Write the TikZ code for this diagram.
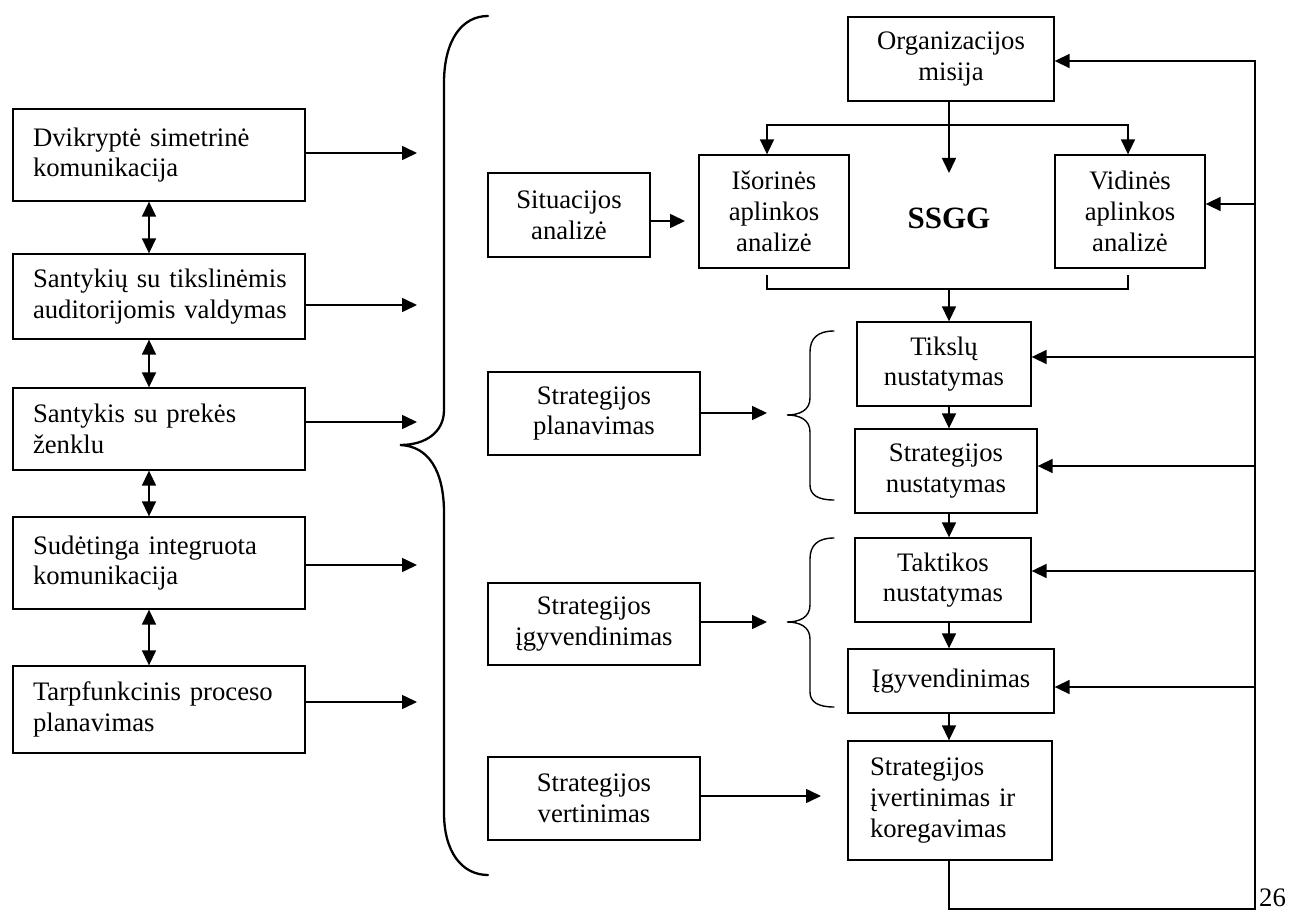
\documentclass[tikz,border=0pt]{standalone}
\usepackage{fontspec}
\setmainfont{Liberation Serif}
\usetikzlibrary{arrows.meta}
\newcommand{\dfont}{\fontsize{26.7pt}{30.7pt}\selectfont}
\begin{document}
\begin{tikzpicture}[x=1pt,y=-1pt,
  box/.style={draw, line width=1.3pt, inner sep=0pt, align=center, font=\dfont},
  lbox/.style={box, align=left, text width=252pt, inner xsep=20pt, minimum width=292pt},
  arr/.style={line width=1.6pt, -{Triangle[length=15pt,width=14pt]}},
  darr/.style={line width=1.6pt, {Triangle[length=15pt,width=14pt]}-{Triangle[length=15pt,width=14pt]}},
  link/.style={line width=1.6pt},
  brace/.style={line width=2.3pt, line cap=round},
  sbrace/.style={line width=1.4pt, line cap=round}
]
\useasboundingbox (0,0) rectangle (1302,912);

% left column
\node[lbox, minimum height=92pt] (l1) at (159,155)   {\mbox{Dvikryptė simetrinė}\\\mbox{komunikacija}};
\node[lbox, minimum height=85pt] (l2) at (159,296.5) {\mbox{Santykių su tikslinėmis}\\\mbox{auditorijomis valdymas}};
\node[lbox, minimum height=82pt] (l3) at (159,429)   {\mbox{Santykis su prekės}\\\mbox{ženklu}};
\node[lbox, minimum height=92pt] (l4) at (159,563)   {\mbox{Sudėtinga integruota}\\\mbox{komunikacija}};
\node[lbox, minimum height=87pt] (l5) at (159,709.5) {\mbox{Tarpfunkcinis proceso}\\\mbox{planavimas}};

\coordinate (dx) at (149,0);
\draw[darr] (l1.south -| dx) -- (l2.north -| dx);
\draw[darr] (l2.south -| dx) -- (l3.north -| dx);
\draw[darr] (l3.south -| dx) -- (l4.north -| dx);
\draw[darr] (l4.south -| dx) -- (l5.north -| dx);

\coordinate (t1) at (417,153);
\coordinate (t2) at (417,305);
\coordinate (t3) at (417,422);
\coordinate (t4) at (417,565);
\coordinate (t5) at (417,702);
\draw[arr] (l1.east |- t1) -- (t1);
\draw[arr] (l2.east |- t2) -- (t2);
\draw[arr] (l3.east |- t3) -- (t3);
\draw[arr] (l4.east |- t4) -- (t4);
\draw[arr] (l5.east |- t5) -- (t5);

% large brace
\draw[brace] (488,16) .. controls (462,16) and (444,40) .. (444,83)
  -- (444,410) .. controls (444,432) and (426,445) .. (400,445)
  .. controls (428,446) and (444,470) .. (444,513)
  -- (444,813) .. controls (444,852) and (462,875) .. (488,875);

% middle column
\node[box, minimum width=162pt, minimum height=84pt] (sit) at (569,215)   {Situacijos\\analizė};
\node[box, minimum width=212pt, minimum height=83pt] (sp)  at (594,413.5) {Strategijos\\planavimas};
\node[box, minimum width=212pt, minimum height=82pt] (si)  at (594,624)   {Strategijos\\įgyvendinimas};
\node[box, minimum width=212pt, minimum height=83pt] (sv)  at (594,798.5) {Strategijos\\vertinimas};

% right column
\node[box, minimum width=206pt, minimum height=84pt]  (org)  at (951,59)    {Organizacijos\\misija};
\node[box, minimum width=150pt, minimum height=113pt] (isor) at (774,211.5) {Išorinės\\aplinkos\\analizė};
\node[box, minimum width=150pt, minimum height=113pt] (vid)  at (1130,211.5) {Vidinės\\aplinkos\\analizė};
\node[font=\fontsize{31pt}{36pt}\selectfont\bfseries] (ssgg) at (949,218) {SSGG};
\node[box, minimum width=174pt, minimum height=84pt] (tik) at (944,364) {Tikslų\\nustatymas};
\node[box, minimum width=182pt, minimum height=84pt] (sn)  at (946,471) {Strategijos\\nustatymas};
\node[box, minimum width=176pt, minimum height=84pt] (tak) at (943,580) {Taktikos\\nustatymas};
\node[box, minimum width=206pt, minimum height=64pt] (igy) at (951,681) {Įgyvendinimas};
\node[box, align=left, text width=160pt, inner xsep=22pt, minimum height=119pt] (kor) at (950,800.5)
  {Strategijos\\įvertinimas ir\\koregavimas};

% arrows into the right column
\coordinate (sitt) at (685,221);
\draw[arr] (sit.east |- sitt) -- (sitt);
\coordinate (spt) at (767,413);
\draw[arr] (sp.east |- spt) -- (spt);
\coordinate (sit2) at (767,622);
\draw[arr] (si.east |- sit2) -- (sit2);
\coordinate (svt) at (821,796);
\draw[arr] (sv.east |- svt) -- (svt);

% small braces
\draw[sbrace] (834,331) .. controls (818,331) and (810,338) .. (810,352)
  -- (810,398) .. controls (810,410) and (800,415) .. (787,415)
  .. controls (800,415) and (810,420) .. (810,432)
  -- (810,485) .. controls (810,495) and (818,500) .. (834,500);
\draw[sbrace] (834,538) .. controls (818,538) and (810,545) .. (810,559)
  -- (810,605) .. controls (810,617) and (800,622) .. (787,622)
  .. controls (800,622) and (810,627) .. (810,639)
  -- (810,692) .. controls (810,702) and (818,707) .. (834,707);

% mission branches
\coordinate (spine) at (949,0);
\coordinate (ssggt) at (949,173);
\coordinate (br) at (949,125);
\coordinate (brL) at (767,125);
\coordinate (brR) at (1128,125);
\draw[arr] (org.south -| spine) -- (ssggt);
\draw[arr] (br) -| (isor.north -| brL);
\draw[arr] (br) -| (vid.north -| brR);

% joining the analyses
\coordinate (jL) at (767,275);
\coordinate (jR) at (1128,275);
\coordinate (jn) at (949,289);
\draw[link] (jL) |- (jn) -| (jR);
\draw[arr] (jn) -- (tik.north -| jn);

% main sequence
\draw[arr] (tik.south -| spine) -- (sn.north -| spine);
\draw[arr] (sn.south -| spine) -- (tak.north -| spine);
\draw[arr] (tak.south -| spine) -- (igy.north -| spine);
\draw[arr] (igy.south -| spine) -- (kor.north -| spine);

% feedback loop
\coordinate (fbtop) at (1255,61);
\coordinate (fbbot) at (1255,909);
\draw[arr] (kor.south -| spine) |- (fbbot) -- (fbtop) -- (org.east |- fbtop);
\coordinate (fb1) at (1255,204);
\coordinate (fb2) at (1255,357);
\coordinate (fb3) at (1255,466);
\coordinate (fb4) at (1255,571);
\coordinate (fb5) at (1255,687);
\draw[arr] (fb1) -- (vid.east |- fb1);
\draw[arr] (fb2) -- (tik.east |- fb2);
\draw[arr] (fb3) -- (sn.east |- fb3);
\draw[arr] (fb4) -- (tak.east |- fb4);
\draw[arr] (fb5) -- (igy.east |- fb5);

% page number
\node[anchor=base west, font=\dfont, inner sep=0pt] (pg) at (1259,906) {26};
\end{tikzpicture}
\end{document}
